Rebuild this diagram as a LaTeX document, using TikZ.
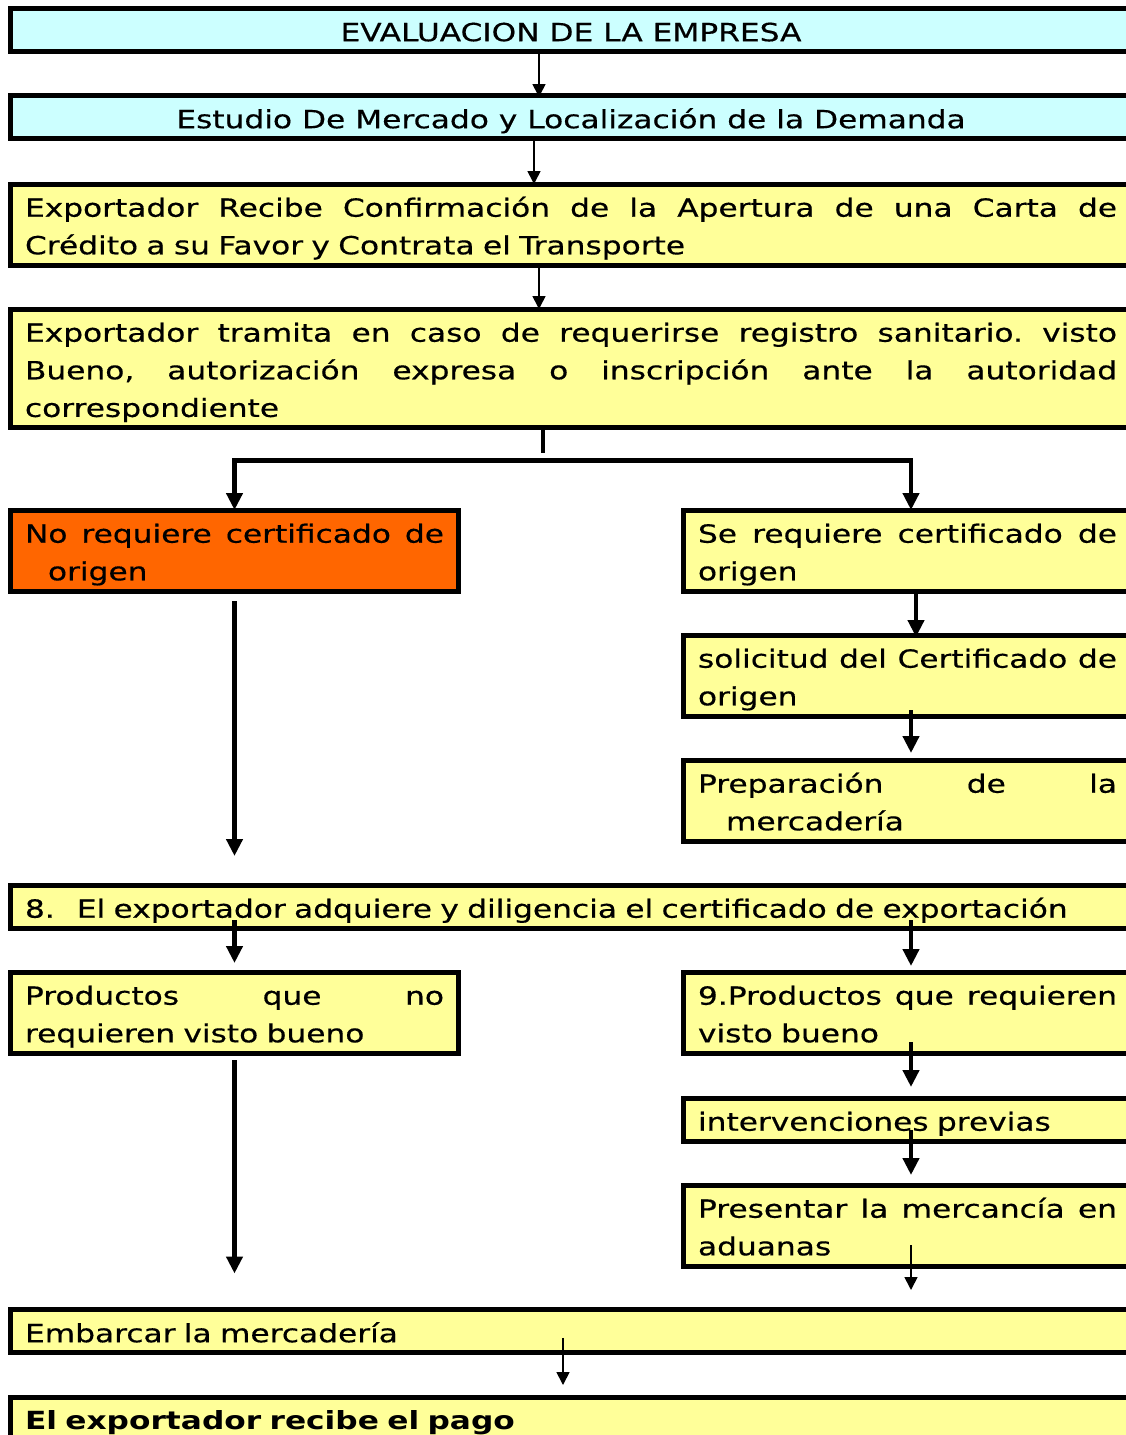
\documentclass[tikz,border=0pt]{standalone}
\usepackage{fontspec}
\setmainfont{DejaVu Sans}[FakeStretch=1.25, UprightFeatures={FakeBold=0.5}]
\usetikzlibrary{arrows.meta,calc}
\definecolor{celeste}{HTML}{CCFFFF}
\definecolor{amarillo}{HTML}{FFFF99}
\definecolor{naranja}{HTML}{FF6600}
\newcommand{\puntal}{\rule[-6pt]{0pt}{34pt}}
\newcommand{\lj}[2][419pt]{\leavevmode\hbox to #1{\frenchspacing\spaceskip=0pt\xspaceskip=0pt\puntal #2}}

\begin{document}
\begin{tikzpicture}[x=1pt,y=-1pt,
    caja/.style={draw, line width=5pt, anchor=north west, outer sep=0pt,
      inner xsep=14.5pt, inner ysep=4.7pt, font=\fontsize{25}{37.6}\selectfont},
    ancha/.style={caja, fill=amarillo, text width=1092pt, align=left},
    media/.style={caja, fill=amarillo, text width=419pt, align=left},
    titulo/.style={caja, fill=celeste, minimum width=1121pt, align=center},
    linea/.style={line width=4.5pt},
    fina/.style={line width=1.7pt, -{Triangle[width=13pt,length=13pt]}},
    gruesa/.style={linea, -{Triangle[width=16pt,length=17pt]}}]
  \path[use as bounding box, fill=white] (0,0) rectangle (1125,1435);
  % cajas
  \node[titulo] (eval) at (10.5,8.5) {\puntal EVALUACION DE LA EMPRESA};
  \node[titulo] (estudio) at (10.5,95.5) {\puntal Estudio De Mercado y Localización de la Demanda};
  \node[ancha] (carta) at (10.5,184) {\lj[1092pt]{Exportador Recibe Confirmación de la Apertura de una Carta de}\\
    \puntal Crédito a su Favor y Contrata el Transporte};
  \node[ancha] (tramite) at (10.5,309) {\lj[1092pt]{Exportador tramita en caso de requerirse registro sanitario. visto}\\
    \lj[1092pt]{Bueno, autorización expresa o inscripción ante la autoridad}\\
    \puntal correspondiente};
  \node[media, fill=naranja] (noreq) at (10.5,510) {\lj{No requiere certificado de}\\\puntal\hspace*{23pt}origen};
  \node[media] (sireq) at (683.5,510) {\lj{Se requiere certificado de}\\\puntal origen};
  \node[media] (solic) at (683.5,635) {\lj{solicitud del Certificado de}\\\puntal origen};
  \node[media] (prep) at (683.5,760) {\lj{Preparación de la}\\\puntal\hspace*{28pt}mercadería};
  \node[ancha] (cert) at (10.5,885) {\puntal 8.\hspace{22pt}El exportador adquiere y diligencia el certificado de exportación};
  \node[media] (prodno) at (10.5,972) {\lj{Productos que no}\\\puntal requieren visto bueno};
  \node[media] (prodsi) at (683.5,972) {\lj{9.Productos que requieren}\\\puntal visto bueno};
  \node[media] (interv) at (683.5,1098) {\puntal intervenciones previas};
  \node[media] (pres) at (683.5,1185) {\lj{Presentar la mercancía en}\\\puntal aduanas};
  \node[ancha] (embarque) at (10.5,1309.5) {\puntal Embarcar la mercadería};
  \node[ancha] (pago) at (10.5,1397) {\puntal\textbf{El exportador recibe el pago}};
  % flechas
  \draw[fina] ($(eval.south)+(-32,0)$) -- ($(estudio.north)+(-32,1.5)$);
  \draw[fina] ($(estudio.south)+(-37,0)$) -- ($(carta.north)+(-37,0)$);
  \draw[fina] ($(carta.south)+(-32,0)$) -- ($(tramite.north)+(-32,0)$);
  \coordinate (rama) at ($(tramite.south)+(-28,33)$);
  \draw[linea] ($(tramite.south)+(-28,0)$) -- ($(rama)+(0,-8)$);
  \draw[linea, {Triangle[width=16pt,length=17pt]}-{Triangle[width=16pt,length=17pt]}]
    (noreq.north) |- (rama) -| ($(sireq.north)+(3.5,0)$);
  \draw[gruesa] ($(sireq.south)+(8.5,1)$) -- ($(solic.north)+(8.5,2)$);
  \draw[gruesa] ($(solic.south)+(3.5,-6)$) -- ($(prep.north)+(3.5,-7)$);
  \draw[gruesa] ($(noreq.south)+(0,10)$) -- ($(noreq.south |- cert.north)+(0,-29)$);
  \draw[gruesa] ($(cert.south -| prodno.north)+(0,-8)$) -- ($(prodno.north)+(0,-9)$);
  \draw[gruesa] ($(cert.south -| prodsi.north)+(3.5,-8)$) -- ($(prodsi.north)+(3.5,-6)$);
  \draw[gruesa] ($(prodsi.south)+(3.5,-11)$) -- ($(interv.north)+(3.5,-11)$);
  \draw[gruesa] ($(interv.south)+(3.5,-11)$) -- ($(pres.north)+(3.5,-10)$);
  \draw[fina] ($(pres.south)+(3.5,-21)$) -- ($(embarque.north -| pres.south)+(3.5,-19.5)$);
  \draw[gruesa] ($(prodno.south)+(0,7)$) -- ($(prodno.south |- embarque.north)+(0,-36)$);
  \draw[fina] ($(embarque.south)+(-8,-15)$) -- ($(pago.north)+(-8,-12)$);
\end{tikzpicture}
\end{document}
